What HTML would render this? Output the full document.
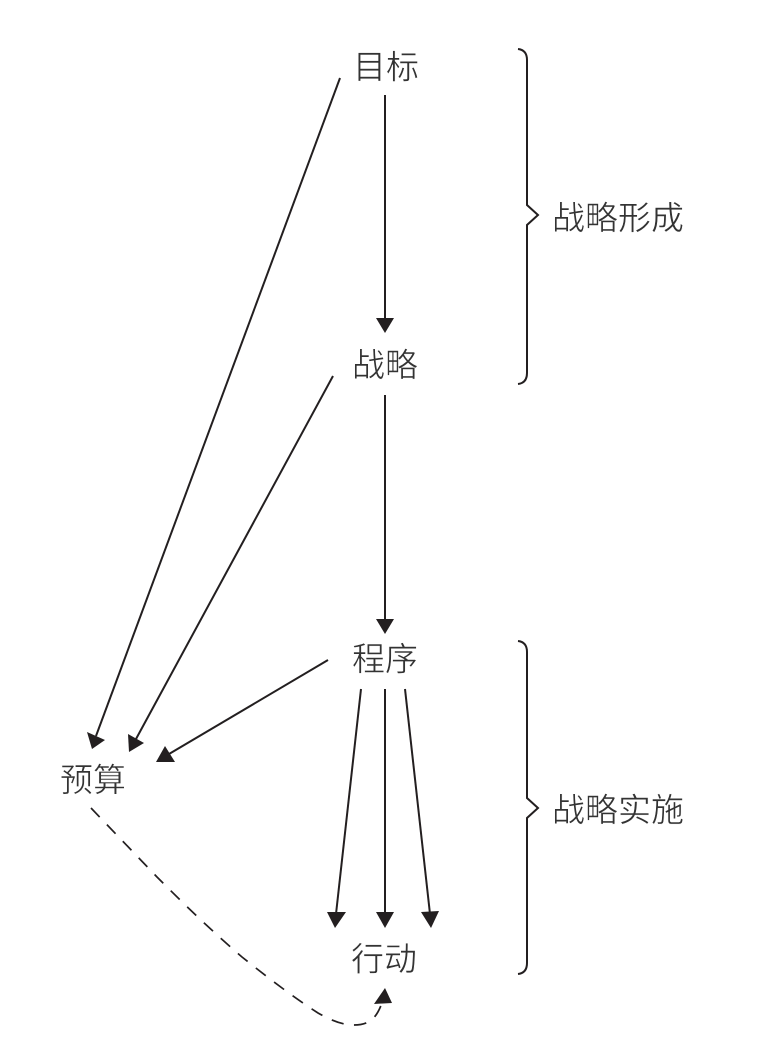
<!DOCTYPE html>
<html>
<head>
<meta charset="utf-8">
<style>
html,body{margin:0;padding:0;background:#fff;}
svg{display:block;}
text{font-family:"Liberation Sans","Noto Sans CJK SC",sans-serif;font-size:33px;fill:#333;stroke:#fff;stroke-width:.55px;text-anchor:middle;dominant-baseline:central;}
</style>
</head>
<body>
<svg width="766" height="1053" viewBox="0 0 766 1053" xmlns="http://www.w3.org/2000/svg">
<text x="386" y="67">目标</text>
<text x="385" y="365">战略</text>
<text x="385" y="659">程序</text>
<text x="93" y="780">预算</text>
<text x="384" y="959">行动</text>
<text x="618" y="218">战略形成</text>
<text x="618" y="810">战略实施</text>
<g stroke="#231f20" stroke-width="2" fill="none">
<line x1="385" y1="95" x2="385" y2="320"/>
<line x1="385" y1="395" x2="385" y2="621"/>
<line x1="340" y1="78" x2="96" y2="736"/>
<line x1="333" y1="376" x2="136" y2="739"/>
<line x1="328" y1="660" x2="169" y2="754"/>
<line x1="361" y1="689" x2="336" y2="914"/>
<line x1="385" y1="689" x2="385" y2="914"/>
<line x1="405" y1="689" x2="430" y2="914"/>
<path d="M91,808 L157,877 C180,900 205,925 242,957 C262,973 290,995 318,1013 C332,1021 343,1025 354,1025 C370,1025 377,1018 383,1000" stroke-width="1.7" stroke-dasharray="12.5 10.5"/>
<path d="M518,49 Q527,50 527,60 L527,205 L538,215 L527,225 L527,373 Q527,383 518,384"/>
<path d="M518,641 Q527,642 527,652 L527,798 L538,808 L527,818 L527,963 Q527,973 518,974"/>
</g>
<g fill="#231f20">
<polygon points="385,333 376,318 394,318"/>
<polygon points="385,634 376,619 394,619"/>
<polygon points="92,749 87,732 105,740"/>
<polygon points="129,752 128,734 144,743"/>
<polygon points="156,762 165,746 175,762"/>
<polygon points="335,928 327,912 346,912"/>
<polygon points="385,928 376,912 394,912"/>
<polygon points="431,928 421,912 439,911"/>
<polygon points="385,988 374,1004 392,1003"/>
</g>
</svg>
</body>
</html>
